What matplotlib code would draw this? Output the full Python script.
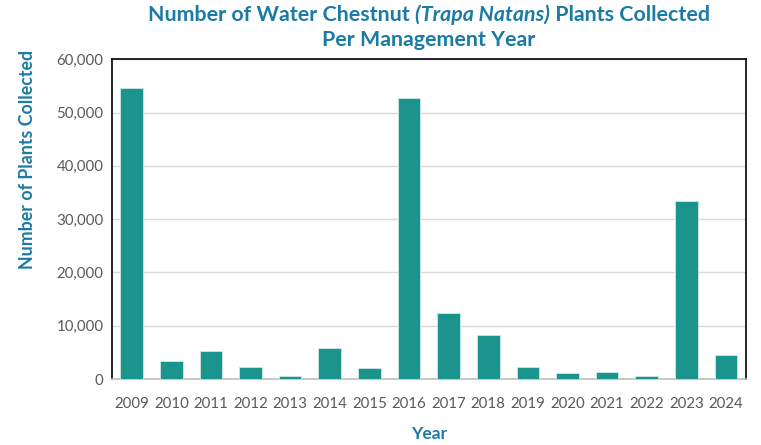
import matplotlib
matplotlib.use("Agg")
import matplotlib.pyplot as plt
from matplotlib.ticker import FuncFormatter

years = ["2009", "2010", "2011", "2012", "2013", "2014", "2015", "2016",
         "2017", "2018", "2019", "2020", "2021", "2022", "2023", "2024"]
plants = [54600, 3400, 5250, 2300, 500, 5800, 2100, 52700,
          12400, 8250, 2300, 1100, 1300, 500, 33400, 4600]

title_color = "#1B7BA5"
bar_color = "#1A948C"
tick_color = "#595959"

plt.rcParams['font.family'] = ['Lato', 'DejaVu Sans']

fig = plt.figure(figsize=(7.61, 4.45), dpi=100)
ax = fig.add_axes([0.147, 0.148, 0.833, 0.719])

ax.bar(range(len(years)), plants, width=0.57, color=bar_color,
       edgecolor="#CFE8E6", linewidth=0.6, zorder=3)

ax.set_xlim(-0.5, len(years) - 0.5)
ax.set_ylim(0, 60000)
ax.set_yticks(range(0, 60001, 10000))
ax.yaxis.set_major_formatter(FuncFormatter(lambda v, p: f"{int(v):,}"))
ax.set_xticks(range(len(years)))
ax.set_xticklabels(years)
ax.tick_params(axis="both", length=0, colors=tick_color, labelsize=10.8)
ax.tick_params(axis="x", pad=13)
ax.tick_params(axis="y", pad=6)
ax.grid(axis="y", color="#D9D9D9", linewidth=1, zorder=0)

for s in ["left", "top", "right"]:
    ax.spines[s].set_color("black")
    ax.spines[s].set_linewidth(1.2)
ax.spines["bottom"].set_color("#BFBFBF")
ax.spines["bottom"].set_linewidth(1.2)

ax.set_xlabel("Year", color=title_color, fontsize=12.5, fontweight="bold")
ax.xaxis.set_label_coords(0.5, -0.147)
ax.set_ylabel("Number of Plants Collected", color=title_color, fontsize=12.8,
              fontweight="bold")
ax.yaxis.set_label_coords(-0.12, 0.6875)

# title: first line has an italic piece, so build it from three texts
parts = [("Number of Water Chestnut ", "normal"),
         ("(Trapa Natans)", "italic"),
         (" Plants Collected", "normal")]
fig.canvas.draw()
r = fig.canvas.get_renderer()
cx = 0.5 * (0.147 + 0.980)
y1 = 1 - 15 / 445
texts = []
for s, st in parts:
    t = fig.text(0, y1, s, fontsize=15.4, fontweight="bold", style=st,
                 color=title_color, va="center", ha="left")
    texts.append(t)
widths = [t.get_window_extent(r).width / fig.bbox.width for t in texts]
x = cx - sum(widths) / 2
for t, w in zip(texts, widths):
    t.set_x(x)
    x += w
fig.text(cx, 1 - 40 / 445, "Per Management Year", fontsize=15.4, fontweight="bold",
         color=title_color, va="center", ha="center")

fig.savefig("out.png", dpi=100)
